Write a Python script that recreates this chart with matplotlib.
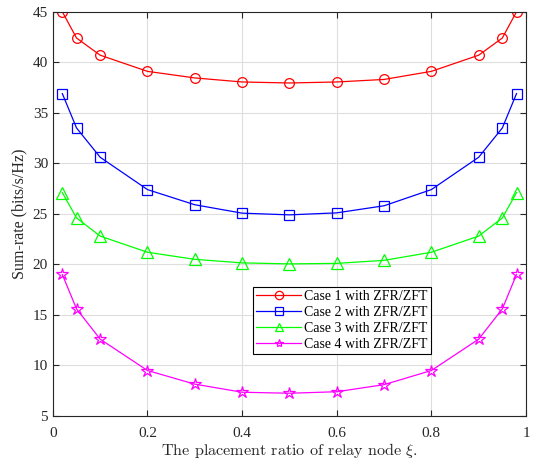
import matplotlib
matplotlib.use("Agg")
import matplotlib.pyplot as plt

# relay placement ratio and sum-rate results for the four cases
xi = [0.02, 0.05, 0.1, 0.2, 0.3, 0.4, 0.5, 0.6, 0.7, 0.8, 0.9, 0.95, 0.98]
case1 = [45.0, 42.4, 40.7, 39.1, 38.45, 38.05, 37.95, 38.05, 38.3, 39.1, 40.7, 42.4, 45.0]
case2 = [36.9, 33.5, 30.6, 27.4, 25.9, 25.07, 24.9, 25.1, 25.8, 27.4, 30.6, 33.5, 36.9]
case3 = [27.1, 24.6, 22.8, 21.2, 20.5, 20.15, 20.05, 20.1, 20.4, 21.2, 22.8, 24.6, 27.1]
case4 = [19.0, 15.6, 12.6, 9.5, 8.15, 7.35, 7.25, 7.4, 8.1, 9.5, 12.6, 15.6, 19.0]

labels = ["Case 1 with ZFR/ZFT", "Case 2 with ZFR/ZFT",
          "Case 3 with ZFR/ZFT", "Case 4 with ZFR/ZFT"]
xticks = [0, 0.2, 0.4, 0.6, 0.8, 1]
yticks = [5, 10, 15, 20, 25, 30, 35, 40, 45]

plt.rcParams['font.family'] = ['Liberation Serif', 'DejaVu Serif']
plt.rcParams['mathtext.fontset'] = 'cm'

dark = (0.15, 0.15, 0.15)

fig = plt.figure(figsize=(5.34, 4.62), dpi=100)
ax = fig.add_axes([0.099, 0.0996, 0.886, 0.875])

styles = [((1, 0, 0), 'o', 7), ((0, 0, 1), 's', 6.5),
          ((0, 1, 0), '^', 8), ((1, 0, 1), '*', 9)]
for y, lab, (c, m, ms) in zip([case1, case2, case3, case4], labels, styles):
    ax.plot(xi, y, color=c, marker=m, markersize=ms, markerfacecolor='none',
            markeredgecolor=c, linewidth=0.9, markeredgewidth=0.9, label=lab)

ax.set_xlim(0, 1)
ax.set_ylim(5, 45)
ax.set_xticks(xticks)
ax.set_xticklabels(['0', '0.2', '0.4', '0.6', '0.8', '1'])
ax.set_yticks(yticks)
ax.grid(True, color=(0.87, 0.87, 0.87), linewidth=0.8)
ax.set_axisbelow(True)
ax.tick_params(direction='in', top=True, right=True, labelsize=11,
               colors=dark, length=4)
ax.tick_params(axis='x', pad=8)
for s in ax.spines.values():
    s.set_color(dark)
    s.set_linewidth(0.8)

ax.set_xlabel(r'The placement ratio of relay node $\xi$.', fontsize=11.6,
              family=['cmr10', 'DejaVu Serif'], color=dark, labelpad=1)
ax.set_ylabel('Sum-rate (bits/s/Hz)', fontsize=11.5, color=dark, labelpad=4)

leg = ax.legend(loc='lower left', bbox_to_anchor=(0.423, 0.153), fontsize=10,
                fancybox=False, edgecolor='black', framealpha=1,
                handlelength=3.2, borderpad=0.25, labelspacing=0.2,
                handletextpad=0.25, borderaxespad=0)
leg.get_frame().set_linewidth(0.8)
for h in leg.legend_handles:
    h.set_markersize(6)

fig.savefig('out.png', dpi=100)
